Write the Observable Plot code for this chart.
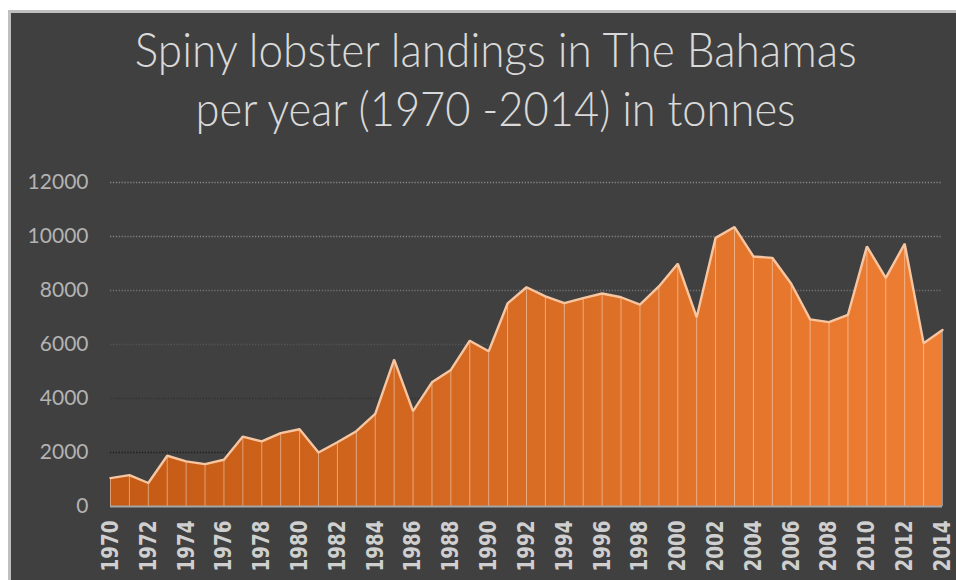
<!DOCTYPE html>
<html>
<head>
<meta charset="utf-8">
<script src="https://cdn.jsdelivr.net/npm/d3@7"></script>
<script src="https://cdn.jsdelivr.net/npm/@observablehq/plot@0.6"></script>
<style>
  html, body { margin: 0; padding: 0; background: #ffffff; }
  #frame {
    position: absolute; left: 8px; top: 10px; width: 948px; height: 570px;
    box-sizing: border-box; border-left: 3px solid #bfbfbf; border-top: 3px solid #bfbfbf;
    background: #404040; overflow: hidden;
  }
  #title { height: 150px; box-sizing: border-box; padding-top: 7px; }
  #title .line {
    height: 59px; line-height: 59px; text-align: center; padding-left: 25px;
    font-family: Lato, "Open Sans", sans-serif; font-weight: 300; font-size: 47px;
    color: #d9d9d9; white-space: nowrap;
  }
  #title .line span { display: inline-block; transform-origin: 50% 50%; }
  #chart svg { display: block; overflow: visible; }
</style>
</head>
<body>
<div id="frame">
  <div id="title">
    <div class="line"><span data-w="722">Spiny lobster landings in The Bahamas</span></div>
    <div class="line"><span data-w="600">per year (1970 -2014) in tonnes</span></div>
  </div>
  <div id="chart"></div>
</div>
<script>
// ---- data ----
const years = [1970,1971,1972,1973,1974,1975,1976,1977,1978,1979,
               1980,1981,1982,1983,1984,1985,1986,1987,1988,1989,
               1990,1991,1992,1993,1994,1995,1996,1997,1998,1999,
               2000,2001,2002,2003,2004,2005,2006,2007,2008,2009,
               2010,2011,2012,2013,2014];
const landings = [1050,1160,870,1880,1670,1570,1730,2590,2410,2720,
                  2860,2000,2380,2790,3430,5440,3530,4600,5060,6140,
                  5750,7520,8120,7780,7530,7720,7890,7750,7480,8150,
                  8990,7010,9950,10350,9260,9210,8250,6930,6830,7100,
                  9630,8470,9730,6050,6540];
const xTickYears = [1970,1972,1974,1976,1978,1980,1982,1984,1986,1988,1990,1992,
                    1994,1996,1998,2000,2002,2004,2006,2008,2010,2012,2014];
const yTicks = [0,2000,4000,6000,8000,10000,12000];
const gridTicks = [2000,4000,6000,8000,10000,12000];

// ---- styles ----
const gridColor = {2000: "#1c1c1c", 4000: "#303030", 6000: "#565656", 8000: "#767676", 10000: "#868686", 12000: "#8a8a8a"};

const data = years.map((y, i) => ({year: y, value: landings[i]}));

// title width fit (Calibri-like narrow)
document.querySelectorAll("#title .line span").forEach(s => {
  const w = s.getBoundingClientRect().width;
  const target = +s.dataset.w;
  s.style.transform = `scaleX(${target / w})`;
});

const chart = Plot.plot({
  width: 945,
  height: 417,
  marginTop: 19,
  marginBottom: 74,
  marginLeft: 99,
  marginRight: 14,
  style: {background: "transparent", overflow: "visible"},
  x: {domain: [1970, 2014]},
  y: {domain: [0, 12000]},
  color: {type: "identity"},
  marks: [
    Plot.ruleY(gridTicks, {y: d => d, stroke: d => gridColor[d], strokeWidth: 1.4, strokeDasharray: "1.2,1.7"}),
    Plot.areaY(data, {x: "year", y: "value", fill: "url(#lobsterGrad)"}),
    Plot.ruleX(data, {x: "year", y1: 0, y2: "value", stroke: "#ffffff", strokeOpacity: 0.42, strokeWidth: 1}),
    Plot.lineY(data, {x: "year", y: "value", stroke: "#f7c6a1", strokeWidth: 2.4, strokeLinejoin: "miter"}),
    Plot.ruleY([0], {stroke: "#a6a6a6", strokeWidth: 2}),
    Plot.axisY({ticks: yTicks, tickSize: 0, tickPadding: 22, tickFormat: d => String(d),
                fontSize: 21, fontFamily: "Lato, 'Open Sans', sans-serif", fill: "#b3b3b3", label: null}),
    Plot.axisX({ticks: xTickYears, tickSize: 0, tickPadding: 14, tickRotate: -90, tickFormat: d => String(d),
                fontSize: 23, fontFamily: "'DejaVu Sans', sans-serif", fontWeight: "bold", fill: "#cfcfcf", label: null})
  ]
});

// gradient definition
const svg = d3.select(chart);
const defs = svg.insert("defs", ":first-child");
const grad = defs.append("linearGradient").attr("id", "lobsterGrad")
  .attr("x1", "0").attr("x2", "1").attr("y1", "0").attr("y2", "0");
grad.append("stop").attr("offset", "0").attr("stop-color", "#c45a14");
grad.append("stop").attr("offset", "1").attr("stop-color", "#ee7e33");

document.getElementById("chart").appendChild(chart);

// compress the x tick labels horizontally like the reference
svg.selectAll('g[aria-label="x-axis tick label"] text')
  .attr("textLength", 51).attr("lengthAdjust", "spacingAndGlyphs");
svg.selectAll('g[aria-label="y-axis tick label"] text').style("font-weight", 400);
</script>
</body>
</html>
